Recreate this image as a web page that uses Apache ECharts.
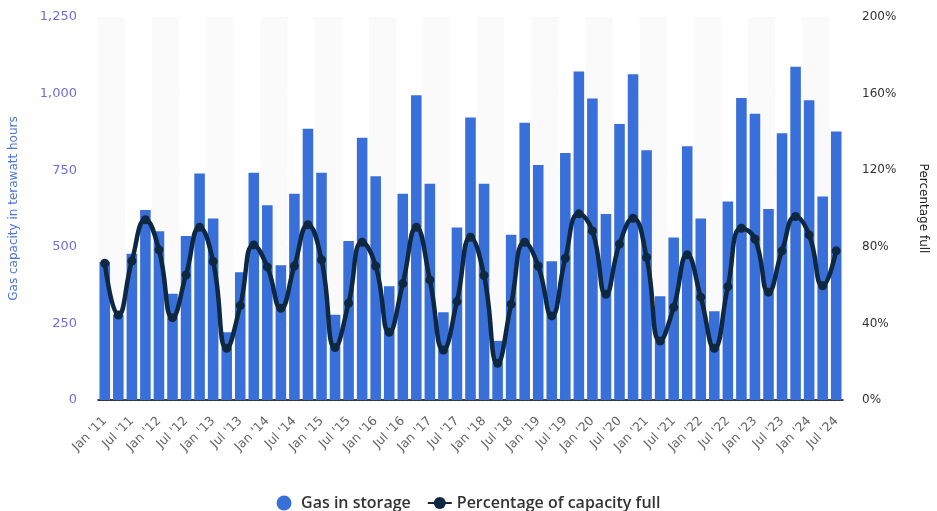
<!DOCTYPE html>
<html><head><meta charset="utf-8">
<script src="https://cdn.jsdelivr.net/npm/echarts@6/dist/echarts.min.js"></script>
<style>html,body{margin:0;padding:0;background:#fff}#c{width:937px;height:511px}</style>
</head><body><div id="c"></div>
<script>
const categories = [
 "Jan '11","Apr '11","Jul '11","Oct '11","Jan '12","Apr '12","Jul '12","Oct '12",
 "Jan '13","Apr '13","Jul '13","Oct '13","Jan '14","Apr '14","Jul '14","Oct '14",
 "Jan '15","Apr '15","Jul '15","Oct '15","Jan '16","Apr '16","Jul '16","Oct '16",
 "Jan '17","Apr '17","Jul '17","Oct '17","Jan '18","Apr '18","Jul '18","Oct '18",
 "Jan '19","Apr '19","Jul '19","Oct '19","Jan '20","Apr '20","Jul '20","Oct '20",
 "Jan '21","Apr '21","Jul '21","Oct '21","Jan '22","Apr '22","Jul '22","Oct '22",
 "Jan '23","Apr '23","Jul '23","Oct '23","Jan '24","Apr '24","Jul '24"
];
const gasInStorage = [
 450, 278, 477, 620, 551, 347, 535, 739, 592, 221, 417, 742, 636, 440,
 673, 885, 742, 278, 519, 856, 730, 371, 673, 995, 706, 286, 563,
 922, 706, 193, 539, 905, 767, 453, 806, 1072, 984, 607, 901, 1063, 815, 339,
 530, 828, 592, 290, 648, 986, 934, 623, 871, 1088, 978, 664, 876
];
const percentFull = [
 71.4, 44.4, 72.6, 94.1, 78.4, 43.0, 65.3, 90.2, 72.3, 27.0, 49.3, 81.0, 69.5, 47.9,
 70.0, 91.5, 73.2, 27.4, 50.5, 82.4, 70.0, 35.4, 60.8, 90.2, 62.7, 26.1, 51.4,
 85.0, 65.0, 19.2, 50.0, 82.4, 70.0, 43.9, 74.0, 97.2, 88.3, 55.2, 81.4, 94.9, 74.4, 30.8,
 48.4, 75.8, 53.7, 27.0, 59.2, 89.7, 84.1, 56.3, 77.9, 95.8, 86.2, 59.6, 77.9
];
const seriesNames = ["Gas in storage", "Percentage of capacity full"];
const leftAxisName = "Gas capacity in terawatt hours";
const rightAxisName = "Percentage full";

const chart = echarts.init(document.getElementById('c'), null, {renderer: 'canvas'});
const labelFont = 'DejaVu Sans';
chart.setOption({
  animation: false,
  backgroundColor: '#ffffff',
  grid: {left: 95, right: 89, top: 17, bottom: 111, containLabel: false},
  legend: {
    top: 490, left: 'center',
    itemGap: 16, itemWidth: 24, itemHeight: 15,
    textStyle: {fontFamily: 'Open Sans', fontSize: 16, fontWeight: 600, color: '#333'},
    data: [{name: seriesNames[0], icon: 'circle'}, {name: seriesNames[1]}]
  },
  xAxis: {
    type: 'category',
    data: categories,
    boundaryGap: true,
    axisLine: {lineStyle: {color: '#000', width: 1.5}},
    axisTick: {show: false},
    axisLabel: {interval: 1, rotate: 45, margin: 19, color: '#666', fontFamily: labelFont, fontSize: 12.5},
    splitArea: {show: true, interval: 1, areaStyle: {color: ['#fafafa', '#ffffff']}},
    splitLine: {show: false}
  },
  yAxis: [{
    type: 'value', min: 0, max: 1250, interval: 250,
    name: leftAxisName, nameLocation: 'middle', nameGap: 78,
    nameTextStyle: {color: '#4d74d8', fontFamily: labelFont, fontSize: 12},
    axisLine: {show: false}, axisTick: {show: false},
    axisLabel: {margin: 21, color: '#6c6fd9', fontFamily: labelFont, fontSize: 13,
      formatter: v => v.toLocaleString('en-US')},
    splitLine: {lineStyle: {color: '#cccccc', type: [2, 2]}}
  }, {
    type: 'value', min: 0, max: 200, interval: 40, position: 'right',
    name: rightAxisName, nameLocation: 'middle', nameGap: 74, nameRotate: -90,
    nameTextStyle: {color: '#222', fontFamily: labelFont, fontSize: 12},
    axisLine: {show: false}, axisTick: {show: false},
    axisLabel: {margin: 19, color: '#333', fontFamily: labelFont, fontSize: 12, formatter: '{value}%'},
    splitLine: {show: false}
  }],
  series: [{
    name: seriesNames[0], type: 'bar', data: gasInStorage,
    barCategoryGap: '22%',
    itemStyle: {color: '#396fd9'}
  }, {
    name: seriesNames[1], type: 'line', yAxisIndex: 1, data: percentFull,
    smooth: true, symbol: 'circle', symbolSize: 9,
    lineStyle: {color: '#0f2841', width: 4.5},
    itemStyle: {color: '#0f2841'}
  }]
});
</script></body></html>
